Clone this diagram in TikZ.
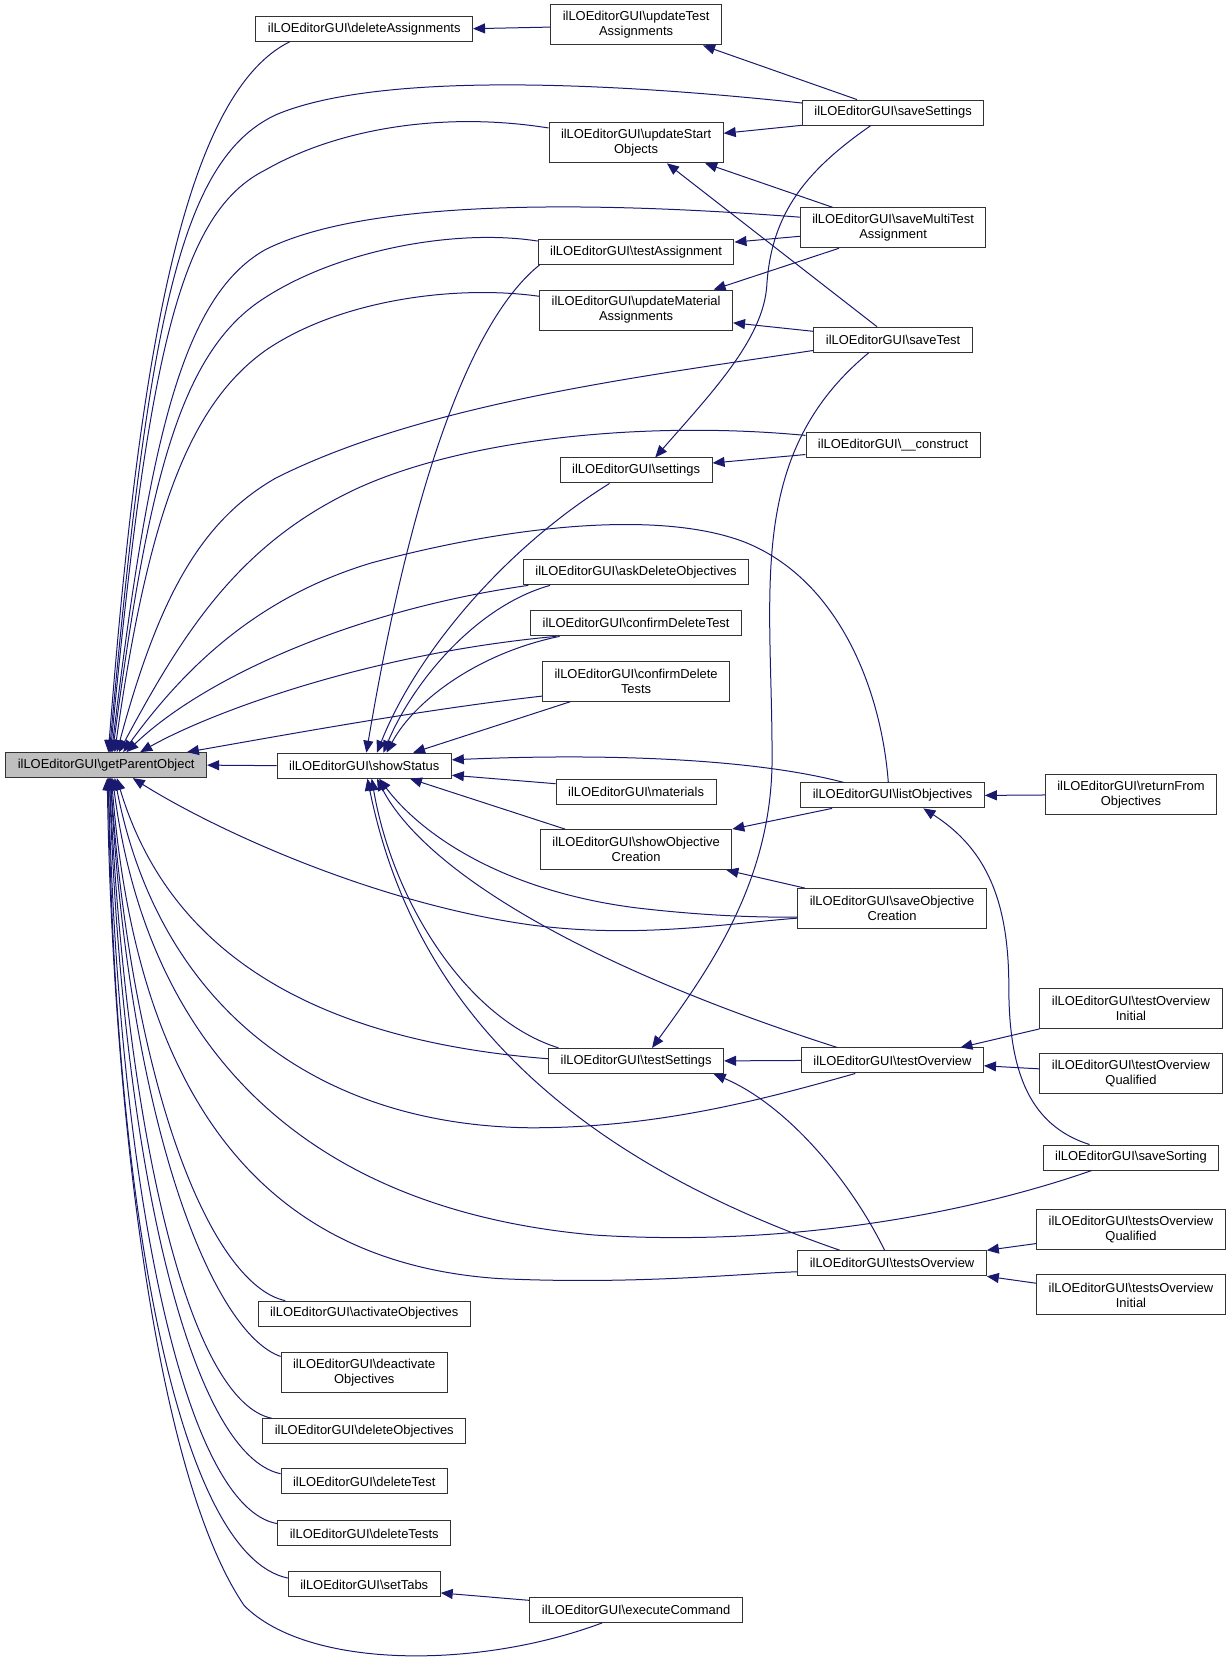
\documentclass[tikz,border=0pt]{standalone}
\usepackage{fontspec}
\setmainfont{Liberation Sans}
\usetikzlibrary{arrows.meta, calc}
\definecolor{edgeblue}{RGB}{25,25,112}
\newcommand{\cls}{ilLOEditorGUI\textbackslash}

\begin{document}
\begin{tikzpicture}[x=0.7966pt, y=-0.7966pt,
	fn/.style={draw=black!80, line width=0.75pt, rectangle, fill=white,
		inner xsep=9pt, inner ysep=1pt, minimum height=18.75pt, align=center,
		font=\fontsize{9.7}{11.25}\selectfont},
	fntwo/.style={fn, minimum height=30pt},
	call/.style={draw=edgeblue, line width=0.75pt, {Triangle[length=9pt, width=7.5pt]}-}]
	\useasboundingbox (0,0) rectangle (1160,1566);

	\node[fn, fill=gray!50] (getparent) at (100,720.5) {\cls getParentObject};
	\node[fn]    (delassign)     at (343,27)       {\cls deleteAssignments};
	\node[fntwo] (updtest)       at (599,23.5)     {\cls updateTest\\Assignments};
	\node[fn]    (savesettings)  at (841,106)      {\cls saveSettings};
	\node[fntwo] (updstart)      at (599,134.5)    {\cls updateStart\\Objects};
	\node[fntwo] (savemulti)     at (841,214.5)    {\cls saveMultiTest\\Assignment};
	\node[fn]    (testassign)    at (599,237)      {\cls testAssignment};
	\node[fntwo] (updmaterial)   at (599,292)      {\cls updateMaterial\\Assignments};
	\node[fn]    (savetest)      at (841,320)      {\cls saveTest};
	\node[fn]    (construct)     at (841,419)      {\cls \_\_construct};
	\node[fn]    (settings)      at (599,443)      {\cls settings};
	\node[fn]    (askdelete)     at (599,539)      {\cls askDeleteObjectives};
	\node[fn]    (confdeltest)   at (599,587)      {\cls confirmDeleteTest};
	\node[fntwo] (confdeltests)  at (599,641.5)    {\cls confirmDelete\\Tests};
	\node[fn]    (showstatus)    at (343,721)      {\cls showStatus};
	\node[fn]    (materials)     at (599,746)      {\cls materials};
	\node[fn]    (listobj)       at (840.5,749)    {\cls listObjectives};
	\node[fntwo] (returnobj)     at (1065,748.6)   {\cls returnFrom\\Objectives};
	\node[fntwo] (showcreation)  at (599,800)      {\cls showObjective\\Creation};
	\node[fntwo] (savecreation)  at (840,855.6)    {\cls saveObjective\\Creation};
	\node[fntwo] (toinitial)     at (1065,949.6)   {\cls testOverview\\Initial};
	\node[fn]    (testsettings)  at (599,999)      {\cls testSettings};
	\node[fn]    (testoverview)  at (840.4,998.6)  {\cls testOverview};
	\node[fntwo] (toqualified)   at (1065,1011)    {\cls testOverview\\Qualified};
	\node[fn]    (savesorting)   at (1065,1090)    {\cls saveSorting};
	\node[fntwo] (tsqualified)   at (1065,1158)    {\cls testsOverview\\Qualified};
	\node[fn]    (testsoverview) at (840,1189.6)   {\cls testsOverview};
	\node[fntwo] (tsinitial)     at (1065,1219.4)  {\cls testsOverview\\Initial};
	\node[fn]    (activate)      at (343,1237)     {\cls activateObjectives};
	\node[fntwo] (deactivate)    at (343,1292.6)   {\cls deactivate\\Objectives};
	\node[fn]    (delobj)        at (343,1347.8)   {\cls deleteObjectives};
	\node[fn]    (deltest)       at (343,1395)     {\cls deleteTest};
	\node[fn]    (deltests)      at (343,1444)     {\cls deleteTests};
	\node[fn]    (settabs)       at (343,1492)     {\cls setTabs};
	\node[fn]    (execcmd)       at (599,1516)     {\cls executeCommand};

	% callers of getParentObject
	\draw[call] ($(getparent.north)+(2,0)$) .. controls (130,350) and (170,90) .. ($(delassign.south)+(-70,0)$);
	\draw[call] ($(getparent.north)+(3,0)$) .. controls (140,300) and (170,150) .. (260,108) .. controls (350,70) and (550,75) .. ($(savesettings.west)+(0,-9)$);
	\draw[call] ($(getparent.north)+(4,0)$) .. controls (140,330) and (170,200) .. (250,160) .. controls (320,120) and (420,105) .. ($(updstart.west)+(0,-14)$);
	\draw[call] ($(getparent.north)+(5,0)$) .. controls (140,420) and (170,280) .. (250,235) .. controls (330,195) and (500,185) .. ($(savemulti.west)+(0,-10)$);
	\draw[call] ($(getparent.north)+(6,0)$) .. controls (140,450) and (170,330) .. (250,280) .. controls (320,235) and (430,215) .. ($(testassign.west)+(0,-10)$);
	\draw[call] ($(getparent.north)+(8,0)$) .. controls (140,480) and (180,380) .. (250,330) .. controls (320,282) and (430,268) .. ($(updmaterial.west)+(0,-13)$);
	\draw[call] ($(getparent.north)+(10,0)$) .. controls (150,560) and (190,490) .. (260,450) .. controls (400,380) and (600,355) .. ($(savetest.west)+(0,10)$);
	\draw[call] ($(getparent.north)+(12,0)$) .. controls (170,600) and (220,520) .. (320,468) .. controls (420,415) and (600,395) .. ($(construct.west)+(0,-9)$);
	\draw[call] ($(getparent.north)+(16,0)$) .. controls (180,620) and (250,560) .. (350,530) .. controls (480,495) and (620,480) .. (700,510) .. controls (790,545) and (830,650) .. ($(listobj.north)+(-4,0)$);
	\draw[call] ($(getparent.north)+(19,0)$) .. controls (190,640) and (330,575) .. ($(askdelete.south west)+(5,0)$);
	\draw[call] ($(getparent.north)+(32,0)$) .. controls (200,670) and (350,615) .. ($(confdeltest.south)+(-75,0)$);
	\draw[call] ($(getparent.north)+(76,0)$) .. controls (280,690) and (400,668) .. ($(confdeltests.west)+(0,14)$);
	\draw[call] (getparent.east) -- (showstatus.west);
	\draw[call] ($(getparent.south)+(25,0)$) .. controls (200,780) and (350,850) .. (500,871) .. controls (600,884) and (680,870) .. ($(savecreation.west)+(0,9)$);
	\draw[call] ($(getparent.south)+(10,0)$) .. controls (160,900) and (300,980) .. ($(testsettings.west)+(0,-2)$);
	\draw[call] ($(getparent.south)+(8,0)$) .. controls (150,950) and (300,1060) .. (500,1062) .. controls (620,1062) and (720,1035) .. ($(testoverview.south)+(-35,0)$);
	\draw[call] ($(getparent.south)+(6,0)$) .. controls (140,1000) and (300,1140) .. (560,1163) .. controls (750,1175) and (920,1140) .. ($(savesorting.south)+(-37,0)$);
	\draw[call] ($(getparent.south)+(5,0)$) .. controls (130,1050) and (260,1190) .. (470,1204) .. controls (600,1210) and (700,1199) .. ($(testsoverview.west)+(0,8)$);
	\draw[call] ($(getparent.south)+(4,0)$) .. controls (125,1030) and (200,1210) .. ($(activate.north west)+(26,0)$);
	\draw[call] ($(getparent.south)+(4,0)$) .. controls (122,1060) and (200,1255) .. ($(deactivate.north west)+(0,4)$);
	\draw[call] ($(getparent.south)+(3,0)$) .. controls (120,1080) and (180,1320) .. ($(delobj.north west)+(9,0)$);
	\draw[call] ($(getparent.south)+(3,0)$) .. controls (115,1100) and (180,1370) .. ($(deltest.north west)+(0,5)$);
	\draw[call] ($(getparent.south)+(2,0)$) .. controls (112,1130) and (175,1420) .. ($(deltests.north west)+(0,3)$);
	\draw[call] ($(getparent.south)+(2,0)$) .. controls (108,1150) and (170,1465) .. ($(settabs.west)+(0,-6)$);
	\draw[call] ($(getparent.south)+(1,0)$) .. controls (105,1000) and (140,1380) .. (230,1512) .. controls (290,1572) and (450,1572) .. ($(execcmd.south)+(-32,0)$);

	\draw[call] (delassign.east) -- ($(updtest.west)+(0,2)$);
	\draw[call] ($(updtest.south)+(63,0)$) -- ($(savesettings.north)+(-34,0)$);
	\draw[call] ($(updstart.east)+(0,-9)$) -- ($(savesettings.west)+(0,12)$);
	\draw[call] ($(updstart.south)+(65,0)$) -- ($(savemulti.north)+(-57,0)$);
	\draw[call] ($(updstart.south)+(29,0)$) -- ($(savetest.north)+(-15,0)$);
	\draw[call] ($(testassign.east)+(0,-9)$) -- ($(savemulti.west)+(0,8)$);
	\draw[call] ($(updmaterial.north)+(73,0)$) -- ($(savemulti.south)+(-51,0)$);
	\draw[call] ($(updmaterial.east)+(0,12)$) -- ($(savetest.west)+(0,-8)$);
	\draw[call] ($(settings.north)+(18,0)$) .. controls (670,370) and (718,320) .. (722,270) .. controls (726,200) and (760,160) .. ($(savesettings.south)+(-21,0)$);
	\draw[call] ($(settings.east)+(0,-7)$) -- ($(construct.west)+(0,9)$);

	% callers of showStatus
	\draw[call] ($(showstatus.north)+(2,0)$) .. controls (370,560) and (420,320) .. ($(testassign.south west)+(2,0)$);
	\draw[call] ($(showstatus.north)+(12,0)$) .. controls (390,620) and (470,520) .. ($(settings.south)+(-25,0)$);
	\draw[call] ($(showstatus.north)+(18,0)$) .. controls (390,640) and (450,570) .. ($(askdelete.south)+(-81,0)$);
	\draw[call] ($(showstatus.north)+(21,0)$) .. controls (390,660) and (450,615) .. ($(confdeltest.south)+(-72,0)$);
	\draw[call] ($(showstatus.north)+(46,0)$) -- ($(confdeltests.south)+(-62,0)$);
	\draw[call] ($(showstatus.east)+(0,-5.5)$) .. controls (550,710) and (700,712) .. ($(listobj.north)+(-46,0)$);
	\draw[call] ($(showstatus.east)+(0,9)$) -- ($(materials.west)+(0,-8)$);
	\draw[call] ($(showstatus.south)+(43,0)$) -- ($(showcreation.north)+(-67,0)$);
	\draw[call] ($(showstatus.south)+(14,0)$) .. controls (400,790) and (480,840) .. (600,855) .. controls (660,862) and (710,864) .. ($(savecreation.west)+(0,8)$);
	\draw[call] ($(showstatus.south)+(12,0)$) .. controls (400,820) and (550,910) .. ($(testoverview.north)+(-52,0)$);
	\draw[call] ($(showstatus.south)+(7,0)$) .. controls (370,850) and (440,960) .. ($(testsettings.north)+(-73,0)$);
	\draw[call] ($(showstatus.south)+(3,0)$) .. controls (380,900) and (480,1070) .. ($(testsoverview.north)+(-49,0)$);

	\draw[call] (listobj.east) -- (returnobj.west);
	\draw[call] (showcreation.north east) -- ($(listobj.south)+(-57,0)$);
	\draw[call] ($(showcreation.south)+(85,0)$) -- ($(savecreation.north)+(-82,0)$);
	\draw[call] ($(listobj.south)+(29,0)$) .. controls (930,800) and (950,850) .. (950,930) .. controls (950,1010) and (970,1060) .. ($(savesorting.north)+(-39,0)$);
	\draw[call] ($(testsettings.north)+(15,0)$) .. controls (670,910) and (725,830) .. (727,720) .. controls (728,560) and (700,430) .. ($(savetest.south)+(-23,0)$);
	\draw[call] (testsettings.east) -- (testoverview.west);
	\draw[call] ($(testsettings.south)+(73,0)$) .. controls (740,1040) and (800,1110) .. ($(testsoverview.north)+(-7,0)$);
	\draw[call] ($(testoverview.north)+(64,0)$) -- (toinitial.south west);
	\draw[call] ($(testoverview.east)+(0,5)$) -- ($(toqualified.west)+(0,-4.5)$);
	\draw[call] (testsoverview.north east) -- ($(tsqualified.west)+(0,13)$);
	\draw[call] (testsoverview.south east) -- ($(tsinitial.west)+(0,-11)$);
	\draw[call] ($(settabs.east)+(0,8)$) -- ($(execcmd.west)+(0,-9)$);
\end{tikzpicture}
\end{document}
